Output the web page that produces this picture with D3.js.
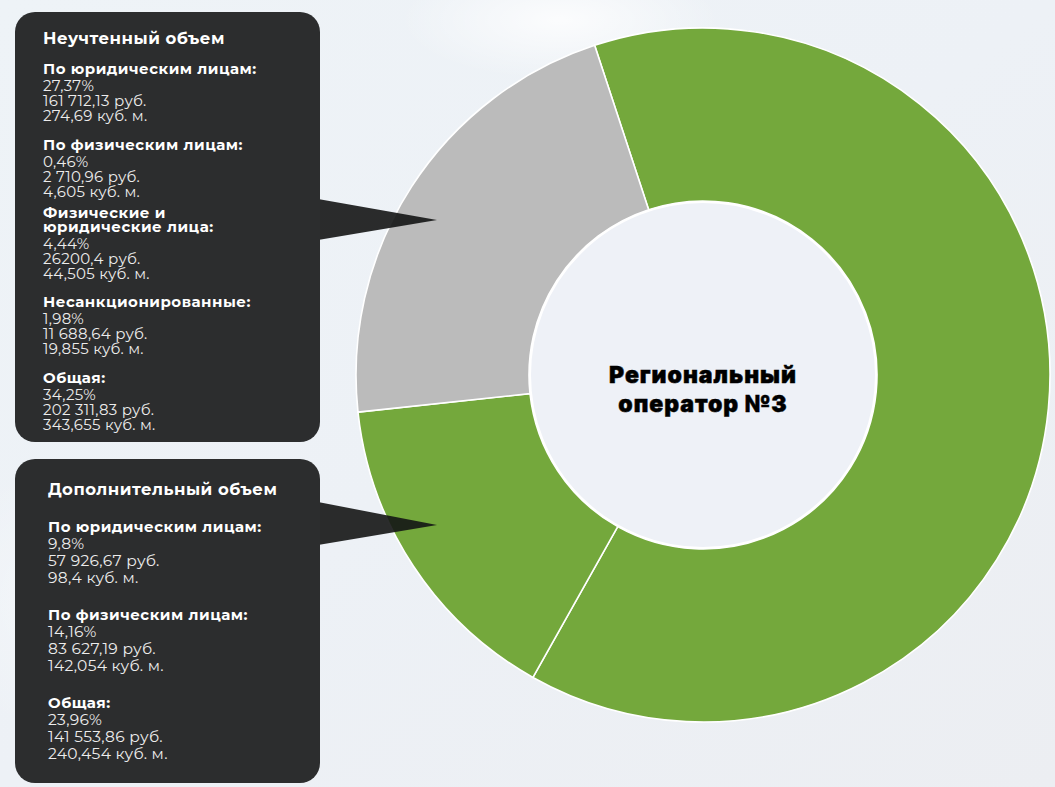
<!DOCTYPE html>
<html><head><meta charset="utf-8">
<script src="https://cdn.jsdelivr.net/npm/d3@7"></script>
<style>
html,body{margin:0;padding:0;overflow:hidden;}
svg{display:block;}
</style></head>
<body>
<svg id="chart" width="1055" height="787"></svg>
<script>
// ---- data ----
const sliceLabels = ["Учтенный объем", "Дополнительный объем", "Неучтенный объем"];
const sliceValues = [100, 23.96, 34.25];
const sliceColors = ["#74a83c", "#74a83c", "#bbbbbb"];
const centerTitle = ["Региональный", "оператор №3"];

const unaccountedTitle = "Неучтенный объем";
const unaccountedHeads = ["По юридическим лицам:", "По физическим лицам:", "Физические и\nюридические лица:", "Несанкционированные:", "Общая:"];
const unaccountedPct = ["27,37%", "0,46%", "4,44%", "1,98%", "34,25%"];
const unaccountedRub = ["161 712,13 руб.", "2 710,96 руб.", "26200,4 руб.", "11 688,64 руб.", "202 311,83 руб."];
const unaccountedVol = ["274,69 куб. м.", "4,605 куб. м.", "44,505 куб. м.", "19,855 куб. м.", "343,655 куб. м."];

const additionalTitle = "Дополнительный объем";
const additionalHeads = ["По юридическим лицам:", "По физическим лицам:", "Общая:"];
const additionalPct = ["9,8%", "14,16%", "23,96%"];
const additionalRub = ["57 926,67 руб.", "83 627,19 руб.", "141 553,86 руб."];
const additionalVol = ["98,4 куб. м.", "142,054 куб. м.", "240,454 куб. м."];

// ---- drawing ----
const svg = d3.select("#chart");
const W = 1055, H = 787;
const defs = svg.append("defs");
const bg = defs.append("linearGradient").attr("id","bg").attr("x1","0").attr("y1","0").attr("x2","1").attr("y2","1");
bg.append("stop").attr("offset","0").attr("stop-color","#eef3f7");
bg.append("stop").attr("offset","0.5").attr("stop-color","#edf1f6");
bg.append("stop").attr("offset","1").attr("stop-color","#eceef2");
svg.append("rect").attr("width",W).attr("height",H).attr("fill","url(#bg)");
const glow = defs.append("radialGradient").attr("id","glow");
glow.append("stop").attr("offset","0").attr("stop-color","#ffffff").attr("stop-opacity",0.8);
glow.append("stop").attr("offset","1").attr("stop-color","#ffffff").attr("stop-opacity",0);
svg.append("ellipse").attr("cx",560).attr("cy",20).attr("rx",160).attr("ry",60).attr("fill","url(#glow)");
svg.append("ellipse").attr("cx",120).attr("cy",600).attr("rx",200).attr("ry",150).attr("fill","url(#glow)").attr("opacity",0.6);

const cx = 703, cy = 375, rOuter = 347, rInner = 174;
const pie = d3.pie().sort(null).value(d => d)
  .startAngle(-18.2 * Math.PI / 180).endAngle((360 - 18.2) * Math.PI / 180);
const arc = d3.arc().innerRadius(rInner).outerRadius(rOuter);
const g = svg.append("g").attr("transform", `translate(${cx},${cy})`);
g.selectAll("path.slice").data(pie(sliceValues)).join("path")
  .attr("class","slice")
  .attr("d", arc)
  .attr("fill", (d,i) => sliceColors[i])
  .attr("stroke", "#ffffff").attr("stroke-width", 1.6);
g.append("circle").attr("r", rInner - 1).attr("fill", "#eef1f7").attr("stroke","#ffffff").attr("stroke-width",2);

g.selectAll("text.center").data(centerTitle).join("text")
  .attr("class","center")
  .attr("x", 0).attr("y", (d,i) => 8 + i * 29)
  .attr("text-anchor","middle")
  .attr("font-family","Inter, 'DejaVu Sans', sans-serif")
  .attr("font-weight", 900)
  .attr("font-size", 23)
  .attr("letter-spacing", 1.0)
  .attr("stroke", "#000").attr("stroke-width", 0.5)
  .attr("fill", "#000")
  .text(d => d);

const boxFill = "#2c2d2e";
function panel(x, y, w, h, tipY0, tipY1, tip) {
  svg.append("path")
    .attr("d", d3.line()([[x + w - 2, tipY0], tip, [x + w - 2, tipY1]]) + "Z")
    .attr("fill", "#141515").attr("opacity", 0.9);
  svg.append("rect").attr("x", x).attr("y", y).attr("width", w).attr("height", h)
    .attr("rx", 20).attr("fill", boxFill);
}
panel(15, 12, 305, 430, 199, 240, [437, 220]);
panel(15, 459, 305, 324, 502, 545, [437, 525]);

const FONT = "Montserrat, 'Open Sans', sans-serif";
function texts(x, titleY, title, heads, pct, rub, vol, groupY, headLH, valGap, valLH, valSize) {
  svg.append("text").attr("x", x).attr("y", titleY)
    .attr("font-family", FONT).attr("font-weight", 700).attr("font-size", 16.5)
    .attr("letter-spacing", 0.5)
    .attr("fill", "#fff").text(title);
  heads.forEach((h, i) => {
    let y = groupY[i];
    const lines = h.split("\n");
    lines.forEach((line, k) => {
      svg.append("text").attr("x", x).attr("y", y + k * headLH)
        .attr("font-family", FONT).attr("font-weight", 700).attr("font-size", 15)
        .attr("letter-spacing", 0.5)
        .attr("fill", "#fff").text(line);
    });
    y += (lines.length - 1) * headLH + valGap;
    [pct[i], rub[i], vol[i]].forEach((v, k) => {
      svg.append("text").attr("x", x).attr("y", y + k * valLH)
        .attr("font-family", FONT).attr("font-weight", 400).attr("font-size", valSize)
        .attr("letter-spacing", 0.3)
        .attr("fill", "#ececec").text(v);
    });
  });
}
texts(43, 44, unaccountedTitle, unaccountedHeads, unaccountedPct, unaccountedRub, unaccountedVol,
      [74, 150, 218, 307, 383], 14, 16.5, 15, 15);
texts(48, 495, additionalTitle, additionalHeads, additionalPct, additionalRub, additionalVol,
      [532, 620, 708], 17, 17, 17, 15.5);
</script>
</body></html>
